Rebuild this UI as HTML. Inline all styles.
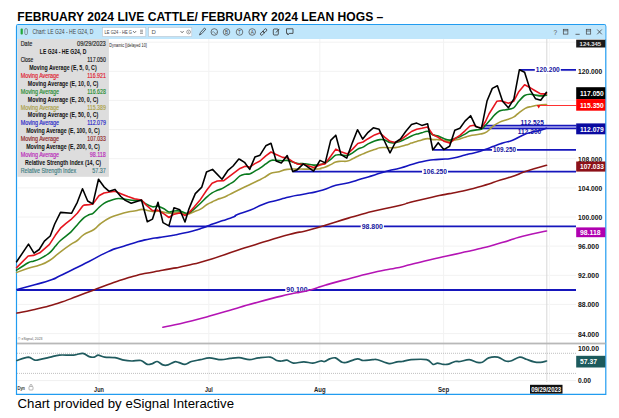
<!DOCTYPE html><html><head><meta charset="utf-8"><style>html,body{margin:0;padding:0;background:#fff}svg{display:block}</style></head><body><svg width="619" height="418" viewBox="0 0 619 418" font-family="Liberation Sans, sans-serif">
<rect width="619" height="418" fill="#fff"/>
<text x="17.3" y="20.7" font-size="12.1" font-weight="bold" fill="#000" textLength="366" lengthAdjust="spacingAndGlyphs">FEBRUARY 2024 LIVE CATTLE/ FEBRUARY 2024 LEAN HOGS –</text>
<text x="17.5" y="407.5" font-size="13.2" fill="#000" textLength="216.5" lengthAdjust="spacingAndGlyphs">Chart provided by eSignal Interactive</text>
<path d="M16.5,394.3 V26.5 a1.8,1.8 0 0 1 1.8,-1.8 H604 a1.8,1.8 0 0 1 1.8,1.8 V394.3 Z" fill="#fff" stroke="#219cf0" stroke-width="1.2"/>
<rect x="17" y="25.2" width="588.3" height="13.8" fill="#c0e6fb"/>
<line x1="17" x2="576" y1="42.2" y2="42.2" stroke="#f2f2f2" stroke-width="1"/>
<line x1="17" x2="576" y1="71.3" y2="71.3" stroke="#f2f2f2" stroke-width="1"/>
<line x1="17" x2="576" y1="100.4" y2="100.4" stroke="#f2f2f2" stroke-width="1"/>
<line x1="17" x2="576" y1="129.6" y2="129.6" stroke="#f2f2f2" stroke-width="1"/>
<line x1="17" x2="576" y1="158.7" y2="158.7" stroke="#f2f2f2" stroke-width="1"/>
<line x1="17" x2="576" y1="187.9" y2="187.9" stroke="#f2f2f2" stroke-width="1"/>
<line x1="17" x2="576" y1="217.0" y2="217.0" stroke="#f2f2f2" stroke-width="1"/>
<line x1="17" x2="576" y1="246.1" y2="246.1" stroke="#f2f2f2" stroke-width="1"/>
<line x1="17" x2="576" y1="275.3" y2="275.3" stroke="#f2f2f2" stroke-width="1"/>
<line x1="17" x2="576" y1="304.4" y2="304.4" stroke="#f2f2f2" stroke-width="1"/>
<line x1="17" x2="576" y1="333.6" y2="333.6" stroke="#f2f2f2" stroke-width="1"/>
<line x1="99" x2="99" y1="39" y2="382" stroke="#f2f2f2" stroke-width="1"/>
<line x1="208.8" x2="208.8" y1="39" y2="382" stroke="#f2f2f2" stroke-width="1"/>
<line x1="319.8" x2="319.8" y1="39" y2="382" stroke="#f2f2f2" stroke-width="1"/>
<line x1="443.6" x2="443.6" y1="39" y2="382" stroke="#f2f2f2" stroke-width="1"/>
<line x1="546.8" x2="546.8" y1="39" y2="382" stroke="#d8d8d8" stroke-width="1"/>
<line x1="549.4" x2="549.4" y1="39" y2="382" stroke="#f7f7f7" stroke-width="1"/>
<rect x="17" y="342.6" width="588.5" height="1.8" fill="#b8b8b8"/>
<line x1="17" x2="576" y1="380.6" y2="380.6" stroke="#f0f0f0" stroke-width="1"/>
<line x1="17" x2="576" y1="353.3" y2="353.3" stroke="#b0b0b0" stroke-width="0.8" stroke-dasharray="1,1"/>
<line x1="17" x2="576" y1="373.4" y2="373.4" stroke="#b0b0b0" stroke-width="0.8" stroke-dasharray="1,1"/>
<line x1="17" x2="576" y1="290" y2="290" stroke="#1616bc" stroke-width="1.8"/>
<line x1="169" x2="576" y1="226.3" y2="226.3" stroke="#1616bc" stroke-width="1.8"/>
<line x1="293" x2="576" y1="171.6" y2="171.6" stroke="#1616bc" stroke-width="1.8"/>
<line x1="433.5" x2="576" y1="149.9" y2="149.9" stroke="#1616bc" stroke-width="1.8"/>
<text x="520.5" y="125.2" font-size="8" font-weight="bold" fill="#1414a0" textLength="23.4" lengthAdjust="spacingAndGlyphs">112.525</text>
<text x="517.8" y="133.8" font-size="8" font-weight="bold" fill="#1414a0" textLength="23.4" lengthAdjust="spacingAndGlyphs">112.300</text>
<rect x="481.5" y="125" width="95" height="4" fill="#7070dc" fill-opacity="0.55"/>
<line x1="481.5" x2="576.5" y1="125.5" y2="125.5" stroke="#1616bc" stroke-width="1.5"/>
<line x1="481.5" x2="576.5" y1="128.5" y2="128.5" stroke="#1616bc" stroke-width="1.5"/>
<line x1="519.2" x2="576" y1="69.9" y2="69.9" stroke="#1616bc" stroke-width="1.8"/>
<rect x="534.8" y="65.7" width="26" height="8" fill="#fff"/>
<text x="535.8" y="72.2" font-size="8" font-weight="bold" fill="#1414a0" textLength="24" lengthAdjust="spacingAndGlyphs">120.200</text>
<rect x="492" y="145.3" width="25" height="8" fill="#fff"/>
<text x="493" y="151.8" font-size="8" font-weight="bold" fill="#1414a0" textLength="23" lengthAdjust="spacingAndGlyphs">109.250</text>
<rect x="422" y="167.8" width="26" height="8" fill="#fff"/>
<text x="423" y="174.3" font-size="8" font-weight="bold" fill="#1414a0" textLength="24" lengthAdjust="spacingAndGlyphs">106.250</text>
<rect x="360.7" y="222.5" width="23.2" height="8" fill="#fff"/>
<text x="361.7" y="229" font-size="8" font-weight="bold" fill="#1414a0" textLength="21.2" lengthAdjust="spacingAndGlyphs">98.800</text>
<rect x="285.3" y="285.8" width="23.2" height="8" fill="#fff"/>
<text x="286.3" y="292.3" font-size="8" font-weight="bold" fill="#1414a0" textLength="21.2" lengthAdjust="spacingAndGlyphs">90.100</text>
<path d="M162.9,327.3 C172.7,325.1 171.7,326.0 192.3,320.8 C212.9,315.6 203.1,317.8 224.6,311.7 C246.1,305.6 235.4,308.2 256.9,302.4 C278.4,296.6 274.8,297.7 289.2,294.3 C303.6,290.9 292.1,293.9 300.0,292.2 C307.9,290.5 304.3,291.6 312.9,289.2 C321.5,286.8 312.9,288.7 325.8,285.0 C338.7,281.3 334.5,282.5 351.7,278.0 C368.9,273.5 360.3,275.4 377.5,271.5 C394.7,267.6 386.2,270.3 403.4,266.4 C420.6,262.5 410.1,264.4 429.2,259.9 C448.3,255.4 443.3,256.9 460.7,253.0 C478.1,249.1 467.6,251.8 481.4,248.3 C495.2,244.8 488.2,246.6 502.0,242.6 C515.8,238.6 507.9,240.1 522.7,236.2 C537.5,232.3 538.6,232.7 546.5,231.0" fill="none" stroke="#b414b4" stroke-width="1.58" stroke-linejoin="round" stroke-linecap="round"/>
<path d="M17.0,313.1 C22.4,312.0 22.7,312.2 33.3,309.8 C43.9,307.4 39.3,308.5 48.8,305.9 C58.3,303.3 52.2,305.2 61.7,302.0 C71.2,298.8 66.9,300.2 77.2,296.3 C87.5,292.4 82.4,294.3 92.7,290.4 C103.0,286.5 98.7,287.9 108.2,284.5 C117.7,281.1 111.6,283.1 121.1,280.1 C130.6,277.1 125.8,278.1 136.6,275.4 C147.4,272.7 142.5,274.1 153.6,271.9 C164.7,269.7 159.3,270.9 170.0,268.9 C180.7,266.9 171.9,269.1 185.8,265.8 C199.7,262.5 194.5,264.1 211.7,258.9 C228.9,253.7 220.3,255.9 237.5,250.3 C254.7,244.7 246.2,247.4 263.4,242.1 C280.6,236.8 273.7,238.6 289.2,234.5 C304.7,230.4 294.5,233.9 310.0,229.7 C325.5,225.5 318.6,227.2 335.8,222.0 C353.0,216.8 347.0,218.3 361.7,214.2 C376.4,210.1 366.9,212.8 379.8,209.8 C392.7,206.8 389.3,208.0 400.5,205.2 C411.7,202.4 400.5,204.7 413.4,201.5 C426.3,198.3 424.0,198.9 439.2,195.6 C454.4,192.3 444.6,194.9 459.0,191.7 C473.4,188.5 468.5,189.9 482.3,186.0 C496.1,182.1 489.6,183.4 500.4,180.0 C511.2,176.6 506.0,178.6 514.6,175.7 C523.2,172.8 515.6,174.7 526.2,171.2 C536.8,167.7 539.7,167.3 546.5,165.3" fill="none" stroke="#8c1616" stroke-width="1.58" stroke-linejoin="round" stroke-linecap="round"/>
<path d="M17.0,289.6 C22.9,288.0 23.7,287.8 34.7,284.7 C45.7,281.6 41.6,283.3 50.0,280.3 C58.4,277.3 53.0,279.1 60.0,275.8 C67.0,272.5 61.2,275.3 70.9,270.5 C80.6,265.7 76.6,267.8 89.0,261.5 C101.4,255.2 97.5,256.4 108.2,251.6 C118.9,246.8 111.6,250.2 121.1,247.0 C130.6,243.8 127.1,244.8 136.6,242.1 C146.1,239.4 141.8,240.6 149.6,239.0 C157.4,237.4 152.2,238.6 160.0,237.4 C167.8,236.2 166.6,236.4 173.0,235.3 C179.4,234.2 172.6,235.4 179.2,234.0 C185.8,232.6 184.8,233.1 192.8,231.0 C200.8,228.9 197.5,229.7 203.1,227.8 C208.7,225.9 204.4,227.1 209.6,225.2 C214.8,223.3 213.0,223.9 218.6,222.0 C224.2,220.1 221.3,221.1 226.4,219.4 C231.5,217.7 230.3,218.4 234.0,216.8 C237.7,215.2 232.0,216.9 237.5,214.6 C243.0,212.3 241.9,213.4 250.5,210.0 C259.1,206.6 254.8,207.5 263.4,204.3 C272.0,201.1 267.7,202.8 276.3,200.4 C284.9,198.0 280.6,199.0 289.2,197.0 C297.8,195.0 295.3,195.8 302.2,194.5 C309.1,193.2 303.1,194.5 310.0,193.0 C316.9,191.5 314.3,192.6 322.9,190.0 C331.5,187.4 327.2,187.7 335.8,185.3 C344.4,182.9 340.2,184.9 348.8,182.7 C357.4,180.5 353.1,181.4 361.7,178.8 C370.3,176.2 366.0,177.6 374.6,175.0 C383.2,172.4 378.9,173.4 387.5,171.1 C396.1,168.8 391.9,170.3 400.5,168.0 C409.1,165.7 404.8,166.5 413.4,164.1 C422.0,161.7 417.7,162.3 426.3,160.7 C434.9,159.1 430.6,160.2 439.2,159.4 C447.8,158.6 443.6,159.7 452.2,158.2 C460.8,156.7 459.2,156.5 465.1,155.0 C471.0,153.5 464.9,155.1 470.0,153.8 C475.1,152.5 473.8,153.2 480.3,151.2 C486.8,149.2 484.2,149.8 489.4,147.9 C494.6,146.0 491.1,147.1 495.8,145.4 C500.5,143.7 498.0,144.5 503.6,142.8 C509.2,141.1 506.6,142.6 512.6,140.2 C518.6,137.8 515.7,138.3 521.7,135.7 C527.7,133.1 524.7,134.1 530.7,132.4 C536.7,130.7 534.5,131.9 539.8,130.5 C545.1,129.1 544.3,129.0 546.5,128.2" fill="none" stroke="#1414be" stroke-width="1.58" stroke-linejoin="round" stroke-linecap="round"/>
<path d="M16.6,272.5 C19.3,271.5 22.8,270.0 28.2,268.3 C33.6,266.6 34.8,266.9 39.8,265.1 C44.8,263.3 45.0,263.4 49.5,260.5 C54.0,257.6 54.2,256.6 59.2,252.8 C64.2,249.0 66.6,247.3 70.8,244.4 C75.0,241.5 74.3,242.8 77.3,240.5 C80.3,238.2 79.9,237.3 83.8,234.7 C87.7,232.1 90.2,232.0 94.0,229.5 C97.8,227.0 96.4,226.7 100.1,224.0 C103.8,221.3 105.4,220.0 109.8,217.8 C114.2,215.6 114.7,216.0 118.9,214.6 C123.1,213.2 124.0,212.9 127.9,212.0 C131.8,211.1 132.4,211.3 135.7,210.7 C139.0,210.1 139.1,209.4 142.1,209.4 C145.1,209.4 145.8,210.2 148.6,210.7 C151.4,211.2 151.5,211.6 154.0,211.7 C156.5,211.8 156.8,210.9 159.2,211.0 C161.6,211.1 162.0,211.8 164.3,212.3 C166.6,212.8 166.6,213.2 168.9,213.3 C171.2,213.4 171.5,213.1 174.0,212.9 C176.5,212.7 177.2,212.1 179.8,212.3 C182.4,212.5 182.9,213.5 185.0,213.9 C187.1,214.3 186.8,214.4 188.9,213.9 C191.0,213.4 191.4,212.8 194.1,211.7 C196.8,210.6 197.5,210.8 200.5,209.1 C203.5,207.4 204.3,206.2 207.0,204.5 C209.7,202.8 209.7,203.2 212.1,202.0 C214.5,200.8 214.9,200.4 217.3,199.4 C219.7,198.4 219.8,198.9 222.5,197.8 C225.2,196.8 226.2,196.2 228.9,194.9 C231.6,193.6 228.8,194.8 234.0,192.3 C239.2,189.8 244.9,186.9 251.0,184.0 C257.1,181.1 256.5,181.4 260.0,179.7 C263.5,177.9 263.2,178.0 265.8,176.5 C268.4,175.0 268.3,174.4 271.0,173.3 C273.7,172.2 273.7,172.9 277.5,172.0 C281.3,171.1 282.4,170.1 287.2,169.4 C292.0,168.7 292.8,169.2 298.1,169.1 C303.4,169.0 304.7,169.2 309.8,169.1 C314.9,169.0 317.6,169.0 320.0,168.8 C322.4,168.6 319.2,168.8 320.3,168.4 C321.4,168.0 322.5,168.1 324.9,167.2 C327.3,166.3 328.2,165.8 330.7,164.6 C333.2,163.4 333.4,162.8 335.8,162.0 C338.2,161.2 338.3,161.5 341.0,161.3 C343.7,161.1 344.8,161.7 347.5,161.1 C350.2,160.5 350.2,159.9 352.6,158.8 C355.0,157.7 355.4,157.3 357.8,156.2 C360.2,155.1 360.6,155.0 363.0,153.9 C365.4,152.8 365.4,152.7 368.1,151.7 C370.8,150.7 371.9,150.4 374.6,149.5 C377.3,148.6 377.4,148.3 379.8,147.8 C382.2,147.3 382.5,147.5 384.9,147.5 C387.3,147.5 387.6,147.8 390.0,147.8 C392.4,147.8 392.9,147.9 395.3,147.6 C397.8,147.3 398.1,147.2 400.5,146.6 C402.9,146.0 403.1,145.9 405.7,145.1 C408.3,144.3 408.9,144.0 411.5,143.1 C414.1,142.2 414.3,142.1 416.7,141.4 C419.1,140.7 419.3,140.6 421.8,139.9 C424.3,139.2 425.0,138.7 427.6,138.6 C430.2,138.5 430.3,139.4 432.8,139.6 C435.3,139.8 435.6,139.4 438.2,139.6 C440.8,139.8 441.1,140.1 443.8,140.5 C446.5,140.9 447.0,141.3 449.6,141.2 C452.2,141.1 452.4,140.6 454.8,140.1 C457.2,139.6 457.5,139.6 459.9,138.9 C462.3,138.2 462.6,138.0 465.0,137.3 C467.4,136.6 466.4,136.4 470.0,135.7 C473.6,135.0 476.4,135.0 480.3,134.1 C484.2,133.2 483.8,133.7 486.8,131.8 C489.8,129.9 490.3,128.3 493.3,126.0 C496.3,123.7 496.4,123.6 499.7,122.1 C503.0,120.6 504.2,120.7 507.5,119.5 C510.8,118.3 511.6,118.2 513.9,116.9 C516.2,115.6 514.9,116.0 517.5,114.0 C520.1,112.0 521.9,110.2 525.2,108.4 C528.5,106.7 528.7,107.2 531.7,106.5 C534.7,105.8 534.6,105.6 538.1,105.2 C541.6,104.8 544.5,104.7 546.5,104.6" fill="none" stroke="#a89c3c" stroke-width="1.58" stroke-linejoin="round" stroke-linecap="round"/>
<path d="M16.6,270.2 C18.5,268.9 25.4,264.2 28.2,262.7 C31.0,261.2 31.5,261.8 33.4,261.2 C35.3,260.6 37.1,260.3 39.8,258.9 C42.5,257.5 46.9,254.9 49.5,252.8 C52.1,250.7 53.5,248.4 55.3,246.3 C57.1,244.2 57.9,242.9 60.5,240.5 C63.1,238.1 67.9,234.8 70.8,232.1 C73.7,229.3 75.8,226.4 78.0,224.0 C80.2,221.6 82.0,219.3 83.8,217.8 C85.6,216.3 87.4,215.6 88.9,214.8 C90.4,214.1 91.3,214.5 93.0,213.3 C94.7,212.1 97.1,209.2 98.9,207.5 C100.7,205.8 102.2,204.4 104.0,203.3 C105.8,202.2 107.8,201.5 109.8,200.7 C111.8,199.9 114.3,199.0 116.3,198.7 C118.2,198.4 119.6,198.5 121.5,198.7 C123.4,198.9 125.8,199.4 127.9,199.7 C130.1,200.0 132.2,200.3 134.4,200.4 C136.6,200.5 138.9,199.8 140.8,200.4 C142.7,201.0 144.1,202.8 146.0,203.9 C147.9,205.0 150.6,206.4 152.5,206.8 C154.4,207.2 155.7,205.9 157.6,206.2 C159.5,206.5 162.1,207.8 164.0,208.8 C165.9,209.8 167.2,211.6 168.9,212.0 C170.6,212.4 172.2,211.2 174.0,211.0 C175.8,210.8 178.0,210.7 179.8,211.0 C181.6,211.3 183.5,212.6 185.0,212.9 C186.5,213.2 187.4,213.5 188.9,212.9 C190.4,212.3 192.2,210.7 194.1,209.1 C196.0,207.5 198.3,205.4 200.5,203.3 C202.7,201.2 205.1,198.5 207.0,196.8 C208.9,195.1 210.4,194.0 212.1,192.9 C213.8,191.8 215.6,191.1 217.3,190.3 C219.0,189.6 220.6,189.4 222.5,188.4 C224.4,187.4 227.0,185.7 228.9,184.5 C230.8,183.3 232.2,182.7 234.0,181.3 C235.8,179.9 238.1,177.1 240.0,175.9 C241.9,174.7 243.6,174.5 245.2,174.2 C246.8,173.9 248.1,174.4 249.7,173.9 C251.3,173.4 253.2,172.1 254.9,171.1 C256.6,170.1 258.2,169.3 260.0,168.1 C261.8,166.9 264.0,165.2 265.8,163.9 C267.6,162.6 269.3,161.0 271.0,160.4 C272.7,159.8 274.3,160.4 276.2,160.4 C278.1,160.4 280.8,160.7 282.6,160.7 C284.4,160.7 285.5,160.2 287.2,160.4 C288.9,160.6 290.9,161.5 292.7,162.0 C294.5,162.5 296.3,163.3 298.1,163.6 C299.9,163.9 300.7,163.3 303.3,163.6 C305.9,163.8 310.8,164.9 313.6,165.1 C316.4,165.3 318.9,164.7 320.0,164.6 C321.1,164.5 319.5,164.8 320.3,164.6 C321.1,164.4 323.2,164.2 324.9,163.3 C326.6,162.4 328.9,160.8 330.7,159.4 C332.5,158.0 334.1,155.8 335.8,155.1 C337.5,154.3 339.1,154.8 341.0,154.9 C342.9,155.0 345.6,155.8 347.5,155.5 C349.4,155.2 350.9,154.0 352.6,152.9 C354.3,151.8 356.1,150.1 357.8,149.1 C359.5,148.1 361.3,148.0 363.0,147.1 C364.7,146.2 366.2,144.9 368.1,143.9 C370.0,142.9 372.7,141.6 374.6,140.9 C376.6,140.2 378.1,139.8 379.8,139.6 C381.5,139.4 383.2,139.5 384.9,140.0 C386.6,140.5 388.3,142.2 390.0,142.6 C391.7,143.0 393.6,142.9 395.3,142.7 C397.1,142.5 398.8,141.8 400.5,141.2 C402.2,140.6 403.9,139.8 405.7,138.9 C407.5,138.0 409.7,136.8 411.5,136.0 C413.3,135.2 415.0,134.6 416.7,134.1 C418.4,133.6 420.0,133.3 421.8,132.8 C423.6,132.3 425.8,130.9 427.6,131.2 C429.4,131.5 431.0,133.9 432.8,134.7 C434.6,135.5 436.4,135.3 438.2,136.0 C440.0,136.7 441.9,137.9 443.8,138.6 C445.7,139.3 447.8,140.1 449.6,140.1 C451.4,140.1 453.1,139.2 454.8,138.6 C456.5,138.0 458.2,137.4 459.9,136.7 C461.6,135.9 463.3,135.0 465.0,134.1 C466.7,133.2 468.1,131.8 470.0,131.1 C471.9,130.4 474.6,130.2 476.5,129.9 C478.4,129.6 480.1,129.8 481.6,129.0 C483.1,128.2 484.0,126.9 485.5,125.3 C487.0,123.7 489.2,121.2 490.7,119.5 C492.2,117.8 493.1,116.4 494.5,115.0 C495.9,113.6 497.5,111.9 499.4,111.0 C501.3,110.1 503.4,110.2 505.8,109.7 C508.2,109.2 511.4,109.2 513.6,107.8 C515.8,106.4 517.0,103.3 518.8,101.3 C520.6,99.2 522.7,96.7 524.6,95.5 C526.5,94.3 528.6,94.3 530.4,94.2 C532.2,94.1 533.9,94.8 535.6,95.1 C537.3,95.4 538.9,95.9 540.7,95.9 C542.5,95.9 545.5,95.2 546.5,95.1" fill="none" stroke="#0a7a1e" stroke-width="1.58" stroke-linejoin="round" stroke-linecap="round"/>
<path d="M16.6,267.6 L28.2,256.0 L33.4,255.4 L39.8,252.8 L49.5,244.4 L55.3,235.3 L60.5,228.2 L65.7,223.6 L70.8,219.7 L77.3,213.3 L82.5,206.2 L84.0,205.1 L89.2,204.6 L93.0,203.9 L98.9,195.8 L104.0,193.0 L109.8,192.0 L115.0,191.3 L121.5,193.9 L127.9,196.5 L134.4,198.7 L141.5,200.0 L146.0,204.9 L152.5,210.7 L157.6,210.1 L164.0,213.9 L168.9,217.5 L174.0,214.2 L179.8,212.9 L185.0,215.5 L188.9,212.9 L194.1,207.1 L200.5,199.4 L207.0,189.7 L212.1,183.2 L217.3,181.0 L223.8,180.6 L240.0,168.4 L245.2,166.2 L249.7,167.1 L254.9,163.6 L260.0,161.0 L265.8,155.8 L271.0,152.0 L276.2,154.5 L282.6,157.4 L287.2,157.8 L292.7,161.7 L298.1,164.2 L303.3,164.2 L313.6,167.5 L320.0,164.9 L320.3,164.6 L324.9,163.9 L330.7,156.2 L335.8,149.1 L341.0,151.7 L347.5,153.9 L352.6,149.1 L357.8,143.5 L363.0,142.0 L368.1,138.7 L374.6,134.9 L379.8,132.9 L384.9,137.4 L390.0,141.3 L395.3,142.5 L400.5,139.9 L405.7,136.0 L411.5,131.5 L416.7,129.3 L421.8,128.3 L427.6,127.0 L432.8,134.7 L438.2,137.3 L443.8,141.2 L449.6,143.1 L454.8,138.6 L459.9,135.4 L465.0,130.8 L470.0,126.0 L473.9,125.3 L477.8,127.3 L481.6,127.9 L485.5,121.5 L489.0,114.0 L496.8,101.3 L500.7,100.7 L508.4,103.3 L513.6,101.3 L518.8,91.7 L524.6,84.8 L530.4,87.8 L535.6,91.0 L540.7,93.9 L546.5,93.9" fill="none" stroke="#e6141e" stroke-width="1.58" stroke-linejoin="round" stroke-linecap="round"/>
<path d="M16.6,261.8 L28.5,244.1 L34.0,253.2 L39.2,249.5 L44.4,241.1 L50.2,236.0 L54.7,224.0 L60.5,212.4 L71.5,213.3 L77.3,202.3 L82.5,188.7 L87.7,201.0 L92.8,203.9 L98.5,179.3 L104.0,186.8 L109.2,191.3 L115.0,189.4 L120.8,196.5 L125.3,200.4 L131.2,203.3 L141.5,200.0 L147.3,221.7 L152.5,219.1 L158.0,202.3 L163.0,222.6 L168.9,225.9 L174.0,207.8 L179.8,209.7 L185.0,222.0 L188.9,209.1 L191.5,202.6 L195.3,193.6 L201.8,187.1 L206.5,172.0 L212.5,169.4 L222.0,179.2 L227.7,170.7 L233.1,166.0 L238.8,159.0 L240.0,159.5 L244.5,162.3 L249.7,169.4 L254.9,157.1 L260.0,155.2 L265.8,145.8 L271.0,143.3 L276.2,161.0 L281.3,162.9 L287.2,155.5 L292.7,171.6 L296.8,170.1 L303.3,163.9 L313.6,171.1 L320.0,160.4 L325.2,162.9 L330.7,140.4 L335.8,135.2 L341.0,154.6 L346.8,158.1 L352.4,142.6 L357.5,129.7 L362.7,139.1 L368.1,132.3 L373.3,127.8 L379.1,129.3 L384.9,142.0 L390.0,152.9 L395.3,142.5 L400.5,138.9 L405.7,131.5 L411.5,124.6 L416.7,123.1 L421.8,125.4 L427.6,123.7 L432.8,150.0 L438.2,142.7 L443.8,149.6 L449.6,146.3 L454.8,130.2 L459.9,128.3 L465.0,121.1 L470.6,115.7 L475.8,126.6 L481.5,128.4 L487.1,100.7 L492.3,88.4 L497.4,85.8 L502.6,101.3 L508.4,107.8 L513.9,98.8 L519.4,69.7 L524.6,72.3 L530.4,90.4 L535.6,98.8 L540.7,100.3 L546.5,92.3" fill="none" stroke="#000" stroke-width="1.58" stroke-linejoin="round" stroke-linecap="round"/>
<path d="M17.0,360.5 C18.9,359.9 25.4,357.2 28.4,357.1 C31.4,357.1 32.7,359.9 34.9,360.2 C37.1,360.5 38.8,359.7 41.4,359.2 C44.0,358.7 47.4,357.8 50.4,357.1 C53.4,356.4 55.5,355.4 59.4,355.1 C63.3,354.8 69.8,355.4 73.7,355.1 C77.6,354.8 80.1,353.1 82.7,353.3 C85.3,353.6 87.3,356.0 89.2,356.6 C91.1,357.2 92.8,357.4 94.3,357.1 C95.8,356.9 96.5,355.1 98.2,355.1 C99.9,355.1 101.9,356.7 104.7,357.1 C107.5,357.5 111.8,357.2 115.0,357.7 C118.2,358.2 121.3,359.6 124.1,360.2 C126.9,360.8 129.0,360.9 131.8,361.0 C134.6,361.1 138.3,359.9 140.9,360.5 C143.5,361.1 145.4,363.9 147.3,364.4 C149.2,364.9 150.8,364.1 152.5,363.6 C154.2,363.1 155.5,361.3 157.2,361.5 C158.9,361.7 161.1,364.3 162.9,364.9 C164.7,365.5 166.2,365.4 168.1,364.9 C170.0,364.4 172.9,362.2 174.6,361.8 C176.3,361.4 176.7,361.9 178.4,362.3 C180.1,362.7 182.7,364.5 184.9,364.4 C187.1,364.3 188.8,362.3 191.4,361.5 C194.0,360.7 197.4,360.3 200.4,359.7 C203.4,359.1 206.0,357.9 209.4,357.9 C212.8,357.9 217.7,359.6 221.1,359.7 C224.5,359.8 227.1,358.7 230.1,358.4 C233.1,358.1 236.0,357.5 239.2,357.7 C242.4,357.9 246.3,359.7 249.5,359.7 C252.7,359.7 255.2,358.3 258.6,357.9 C262.1,357.5 267.2,356.7 270.2,357.1 C273.2,357.5 274.8,359.9 276.7,360.5 C278.6,361.1 280.1,361.1 281.8,361.0 C283.5,360.9 285.1,359.8 287.0,360.2 C288.9,360.6 290.6,362.8 293.4,363.1 C296.2,363.4 300.6,361.8 303.8,361.8 C307.1,361.8 310.1,363.2 312.9,363.1 C315.7,363.0 318.8,361.3 320.7,361.0 C322.6,360.7 323.1,361.9 324.6,361.5 C326.1,361.1 327.9,359.5 329.7,358.9 C331.5,358.3 333.3,357.3 335.4,357.9 C337.5,358.5 340.2,361.6 342.1,362.3 C344.0,363.0 343.9,362.9 346.5,362.3 C349.1,361.7 354.6,359.2 357.4,358.9 C360.2,358.6 360.8,360.4 363.3,360.5 C365.8,360.6 370.0,359.8 372.4,359.7 C374.8,359.6 374.7,359.0 377.5,359.7 C380.3,360.4 386.0,363.2 389.2,363.6 C392.4,364.0 394.8,362.2 396.9,361.8 C399.0,361.4 399.7,361.9 402.1,361.5 C404.5,361.1 407.0,360.0 411.1,359.7 C415.2,359.4 422.9,358.9 426.6,359.7 C430.3,360.5 431.3,363.8 433.1,364.4 C434.9,365.0 435.8,363.1 437.5,363.1 C439.2,363.1 441.5,364.2 443.4,364.4 C445.2,364.6 446.7,364.6 448.6,364.1 C450.6,363.6 453.2,361.9 455.1,361.5 C457.0,361.1 457.6,361.8 460.0,361.5 C462.4,361.2 466.4,359.6 469.3,359.7 C472.2,359.8 474.9,361.9 477.1,362.3 C479.3,362.7 480.4,363.0 482.3,362.3 C484.2,361.6 486.1,358.8 488.7,357.9 C491.3,357.0 495.0,356.6 497.8,357.1 C500.6,357.6 503.4,360.4 505.5,361.0 C507.6,361.6 508.3,361.6 510.7,361.0 C513.1,360.4 517.1,357.4 519.7,357.1 C522.3,356.8 523.8,358.4 526.2,359.2 C528.6,360.0 531.6,361.3 534.0,361.8 C536.4,362.3 538.3,362.4 540.4,362.3 C542.5,362.2 545.5,361.2 546.5,361.0" fill="none" stroke="#1f5a5e" stroke-width="1.7" stroke-linejoin="round" stroke-linecap="round"/>
<line x1="537" x2="576.5" y1="105.5" y2="105.5" stroke="#ff3030" stroke-width="1"/>
<path d="M536.8,105.2 L540.6,105.2 L538.7,108.6 Z" fill="#e81010"/>
<text x="578" y="74.3" font-size="7.6" font-weight="bold" fill="#111" textLength="24.2" lengthAdjust="spacingAndGlyphs">120.000</text>
<text x="578" y="161.7" font-size="7.6" font-weight="bold" fill="#111" textLength="24.2" lengthAdjust="spacingAndGlyphs">108.000</text>
<text x="578" y="190.9" font-size="7.6" font-weight="bold" fill="#111" textLength="24.2" lengthAdjust="spacingAndGlyphs">104.000</text>
<text x="578" y="220.0" font-size="7.6" font-weight="bold" fill="#111" textLength="24.2" lengthAdjust="spacingAndGlyphs">100.000</text>
<text x="578" y="249.1" font-size="7.6" font-weight="bold" fill="#111" textLength="21" lengthAdjust="spacingAndGlyphs">96.000</text>
<text x="578" y="278.3" font-size="7.6" font-weight="bold" fill="#111" textLength="21" lengthAdjust="spacingAndGlyphs">92.000</text>
<text x="578" y="307.4" font-size="7.6" font-weight="bold" fill="#111" textLength="21" lengthAdjust="spacingAndGlyphs">88.000</text>
<text x="578" y="336.6" font-size="7.6" font-weight="bold" fill="#111" textLength="21" lengthAdjust="spacingAndGlyphs">84.000</text>
<text x="578" y="350.7" font-size="7.6" font-weight="bold" fill="#111" textLength="21" lengthAdjust="spacingAndGlyphs">100.00</text>
<text x="578" y="382.7" font-size="7.6" font-weight="bold" fill="#111" textLength="13" lengthAdjust="spacingAndGlyphs">0.00</text>
<rect x="576.2" y="87.2" width="29.1" height="11.9" fill="#000"/>
<text x="580.0" y="95.9" font-size="7.6" font-weight="bold" fill="#fff" textLength="23.8" lengthAdjust="spacingAndGlyphs">117.050</text>
<rect x="576.2" y="99.1" width="29.1" height="11.6" fill="#ff0000"/>
<text x="580.0" y="107.6" font-size="7.6" font-weight="bold" fill="#fff" textLength="23.8" lengthAdjust="spacingAndGlyphs">115.350</text>
<rect x="576.2" y="123.4" width="29.1" height="10.9" fill="#0a0aa0"/>
<text x="580.0" y="131.6" font-size="7.6" font-weight="bold" fill="#fff" textLength="23.8" lengthAdjust="spacingAndGlyphs">112.079</text>
<rect x="576.2" y="161.5" width="29.1" height="10.1" fill="#8c1018"/>
<text x="580.0" y="169.2" font-size="7.6" font-weight="bold" fill="#fff" textLength="23.8" lengthAdjust="spacingAndGlyphs">107.033</text>
<rect x="576.2" y="227.4" width="29.1" height="9.8" fill="#b000b0"/>
<text x="580.0" y="235.0" font-size="7.6" font-weight="bold" fill="#fff" textLength="20.5" lengthAdjust="spacingAndGlyphs">98.118</text>
<rect x="576.2" y="355.8" width="29.1" height="11.7" fill="#1c5a5c"/>
<text x="580.0" y="364.3" font-size="7.6" font-weight="bold" fill="#fff" textLength="17" lengthAdjust="spacingAndGlyphs">57.37</text>
<rect x="576.2" y="39.7" width="29.1" height="7.8" fill="#1a1a1a"/>
<text x="579.6" y="45.9" font-size="6.2" font-weight="bold" fill="#e4e4e4" textLength="21.5" lengthAdjust="spacingAndGlyphs">124.345</text>
<rect x="530" y="384.8" width="32.5" height="8.8" fill="#111"/>
<text x="531.2" y="391.6" font-size="6.8" font-weight="bold" fill="#fff" textLength="30" lengthAdjust="spacingAndGlyphs">09/29/2023</text>
<text x="94.1" y="392.2" font-size="7" font-weight="bold" fill="#222" textLength="9.8" lengthAdjust="spacingAndGlyphs">Jun</text>
<text x="204.9" y="392.2" font-size="7" font-weight="bold" fill="#222" textLength="7.8" lengthAdjust="spacingAndGlyphs">Jul</text>
<text x="314.0" y="392.2" font-size="7" font-weight="bold" fill="#222" textLength="11.6" lengthAdjust="spacingAndGlyphs">Aug</text>
<text x="438.0" y="392.2" font-size="7" font-weight="bold" fill="#222" textLength="11.2" lengthAdjust="spacingAndGlyphs">Sep</text>
<text x="18" y="340.3" font-size="4.3" fill="#5a5a5a" textLength="24.5" lengthAdjust="spacingAndGlyphs">© eSignal, 2023</text>
<text x="17.5" y="390" font-size="4.8" fill="#222" stroke="#222" stroke-width="0.12" textLength="7.2" lengthAdjust="spacingAndGlyphs">Dyn</text>
<rect x="29" y="386.4" width="4" height="3.6" rx="0.8" fill="none" stroke="#888" stroke-width="0.6"/><path d="M30,386.4 v-1 a1,1 0 0 1 2,0 v1" fill="none" stroke="#888" stroke-width="0.6"/>
<text x="109.3" y="47.3" font-size="4.6" fill="#222" textLength="37.5" lengthAdjust="spacingAndGlyphs">Dynamic [[delayed 10]</text>
<rect x="17.3" y="39" width="91.6" height="137.8" fill="#dddddd"/>
<text x="20.7" y="46.3" font-size="6.5" stroke="#222" stroke-width="0.15" fill="#222" textLength="11.5" lengthAdjust="spacingAndGlyphs">Date</text>
<text x="77.1" y="46.3" font-size="6.5" stroke="#222" stroke-width="0.15" fill="#222" textLength="28.7" lengthAdjust="spacingAndGlyphs">09/29/2023</text>
<text x="39.8" y="54.2" font-size="6.6" font-weight="bold" fill="#111" textLength="46.5" lengthAdjust="spacingAndGlyphs">LE G24 - HE G24, D</text>
<text x="20.7" y="62.1" font-size="6.5" stroke="#111" stroke-width="0.15" fill="#111" textLength="12.5" lengthAdjust="spacingAndGlyphs">Close</text>
<text x="87.3" y="62.1" font-size="6.5" stroke="#111" stroke-width="0.15" fill="#111" textLength="18.5" lengthAdjust="spacingAndGlyphs">117.050</text>
<text x="29.2" y="70.0" font-size="6.6" font-weight="bold" fill="#111" textLength="67.5" lengthAdjust="spacingAndGlyphs">Moving Average (E, 5, 0, C)</text>
<text x="20.7" y="77.9" font-size="6.5" stroke="#e01428" stroke-width="0.15" fill="#e01428" textLength="38.3" lengthAdjust="spacingAndGlyphs">Moving Average</text>
<text x="87.3" y="77.9" font-size="6.5" stroke="#e01428" stroke-width="0.15" fill="#e01428" textLength="18.5" lengthAdjust="spacingAndGlyphs">116.921</text>
<text x="27.8" y="85.8" font-size="6.6" font-weight="bold" fill="#111" textLength="70.5" lengthAdjust="spacingAndGlyphs">Moving Average (E, 10, 0, C)</text>
<text x="20.7" y="93.7" font-size="6.5" stroke="#1a8a2a" stroke-width="0.15" fill="#1a8a2a" textLength="38.3" lengthAdjust="spacingAndGlyphs">Moving Average</text>
<text x="87.3" y="93.7" font-size="6.5" stroke="#1a8a2a" stroke-width="0.15" fill="#1a8a2a" textLength="18.5" lengthAdjust="spacingAndGlyphs">116.628</text>
<text x="27.8" y="101.6" font-size="6.6" font-weight="bold" fill="#111" textLength="70.5" lengthAdjust="spacingAndGlyphs">Moving Average (E, 20, 0, C)</text>
<text x="20.7" y="109.5" font-size="6.5" stroke="#a89c3c" stroke-width="0.15" fill="#a89c3c" textLength="38.3" lengthAdjust="spacingAndGlyphs">Moving Average</text>
<text x="87.3" y="109.5" font-size="6.5" stroke="#a89c3c" stroke-width="0.15" fill="#a89c3c" textLength="18.5" lengthAdjust="spacingAndGlyphs">115.389</text>
<text x="27.8" y="117.4" font-size="6.6" font-weight="bold" fill="#111" textLength="70.5" lengthAdjust="spacingAndGlyphs">Moving Average (E, 50, 0, C)</text>
<text x="20.7" y="125.3" font-size="6.5" stroke="#2020c8" stroke-width="0.15" fill="#2020c8" textLength="38.3" lengthAdjust="spacingAndGlyphs">Moving Average</text>
<text x="87.3" y="125.3" font-size="6.5" stroke="#2020c8" stroke-width="0.15" fill="#2020c8" textLength="18.5" lengthAdjust="spacingAndGlyphs">112.079</text>
<text x="26.2" y="133.2" font-size="6.6" font-weight="bold" fill="#111" textLength="73.5" lengthAdjust="spacingAndGlyphs">Moving Average (E, 100, 0, C)</text>
<text x="20.7" y="141.1" font-size="6.5" stroke="#8c1a1a" stroke-width="0.15" fill="#8c1a1a" textLength="38.3" lengthAdjust="spacingAndGlyphs">Moving Average</text>
<text x="87.3" y="141.1" font-size="6.5" stroke="#8c1a1a" stroke-width="0.15" fill="#8c1a1a" textLength="18.5" lengthAdjust="spacingAndGlyphs">107.033</text>
<text x="26.2" y="149.0" font-size="6.6" font-weight="bold" fill="#111" textLength="73.5" lengthAdjust="spacingAndGlyphs">Moving Average (E, 200, 0, C)</text>
<text x="20.7" y="156.9" font-size="6.5" stroke="#b820b8" stroke-width="0.15" fill="#b820b8" textLength="38.3" lengthAdjust="spacingAndGlyphs">Moving Average</text>
<text x="89.8" y="156.9" font-size="6.5" stroke="#b820b8" stroke-width="0.15" fill="#b820b8" textLength="16" lengthAdjust="spacingAndGlyphs">98.118</text>
<text x="25.0" y="164.8" font-size="6.6" font-weight="bold" fill="#111" textLength="76" lengthAdjust="spacingAndGlyphs">Relative Strength Index (14, C)</text>
<text x="20.7" y="172.7" font-size="6.5" stroke="#3a7a80" stroke-width="0.15" fill="#3a7a80" textLength="55.5" lengthAdjust="spacingAndGlyphs">Relative Strength Index</text>
<text x="92.3" y="172.7" font-size="6.5" stroke="#3a7a80" stroke-width="0.15" fill="#3a7a80" textLength="13.5" lengthAdjust="spacingAndGlyphs">57.37</text>
<rect x="20.6" y="28.6" width="2.2" height="6" rx="0.8" fill="#22a83a"/>
<rect x="24.8" y="28.6" width="2.6" height="6" rx="1.2" fill="none" stroke="#555" stroke-width="0.6"/>
<text x="32.4" y="34.2" font-size="6.6" fill="#444" textLength="61" lengthAdjust="spacingAndGlyphs">Chart: LE G24 - HE G24, D</text>
<rect x="102.3" y="27.3" width="43.5" height="9.2" fill="#fff" stroke="#b4c4d0" stroke-width="0.6"/>
<text x="104.5" y="33.8" font-size="5.8" fill="#444" textLength="27.5" lengthAdjust="spacingAndGlyphs">LE G24 - HE G</text>
<path d="M133,31 l1.6,1.8 l1.6,-1.8" fill="none" stroke="#444" stroke-width="0.7"/>
<path d="M140,30.2 h3 M140,31.8 h3 M140,33.4 h3" stroke="#555" stroke-width="0.6"/>
<rect x="148.6" y="27.3" width="43.2" height="9.2" fill="#fff" stroke="#b4c4d0" stroke-width="0.6"/>
<text x="151.5" y="34" font-size="6" fill="#555">D</text>
<path d="M180.5,31 l1.6,1.8 l1.6,-1.8" fill="none" stroke="#444" stroke-width="0.7"/>
<circle cx="188.6" cy="32" r="1.9" fill="none" stroke="#666" stroke-width="0.6"/><circle cx="188.6" cy="32" r="0.6" fill="#666"/>
<path d="M199.5,35 l1,-2.6 l4,-4.4 l1.3,1.2 l-4,4.4 Z" fill="none" stroke="#333" stroke-width="0.8"/>
<path d="M212,32.6 q1.1,-2.2 2.2,0 t2.2,0" fill="none" stroke="#444" stroke-width="0.6"/>
<circle cx="214.3" cy="32" r="3.3" fill="none" stroke="#444" stroke-width="0.7"/>
<text x="214.3" y="33.7" font-size="4.6" fill="#444" text-anchor="middle"></text>
<circle cx="226.5" cy="32" r="3.3" fill="none" stroke="#444" stroke-width="0.7"/>
<text x="226.5" y="33.7" font-size="4.6" fill="#444" text-anchor="middle">B</text>
<circle cx="239.5" cy="32" r="3.3" fill="none" stroke="#444" stroke-width="0.7"/>
<text x="239.5" y="33.7" font-size="4.6" fill="#444" text-anchor="middle">T</text>
<circle cx="252.2" cy="32" r="3.3" fill="none" stroke="#444" stroke-width="0.7"/>
<text x="252.2" y="33.7" font-size="4.6" fill="#444" text-anchor="middle">A</text>
<g transform="rotate(-45 263.6 32)" fill="none" stroke="#333" stroke-width="0.8"><rect x="259.6" y="30.8" width="4.4" height="2.4" rx="1.2"/><rect x="263.2" y="30.8" width="4.4" height="2.4" rx="1.2"/></g>
<rect x="273.3" y="29" width="5" height="6" rx="1" fill="none" stroke="#333" stroke-width="0.8"/><path d="M276,32.5 l3.2,-3.6" stroke="#333" stroke-width="0.9"/>
<path d="M286.5,28.8 h6.5 v4.6 h-3.8 l-1.4,1.6 v-1.6 h-1.3 Z" fill="none" stroke="#333" stroke-width="0.8"/>
<text x="553.5" y="34.8" font-size="6.5" fill="#555">?</text>
<rect x="563.3" y="29.3" width="4.6" height="4.8" fill="none" stroke="#444" stroke-width="0.7"/><path d="M563.3,30.8 h4.6" stroke="#444" stroke-width="0.7"/>
<path d="M575.5,34.3 h4.2" stroke="#444" stroke-width="0.8"/>
<rect x="586.3" y="29.3" width="4.4" height="4.8" fill="none" stroke="#444" stroke-width="0.7"/><path d="M586.3,31 h4.4" stroke="#444" stroke-width="0.7"/>
<path d="M597.2,29.5 l4.6,4.8 M601.8,29.5 l-4.6,4.8" stroke="#444" stroke-width="0.8"/>
</svg></body></html>
